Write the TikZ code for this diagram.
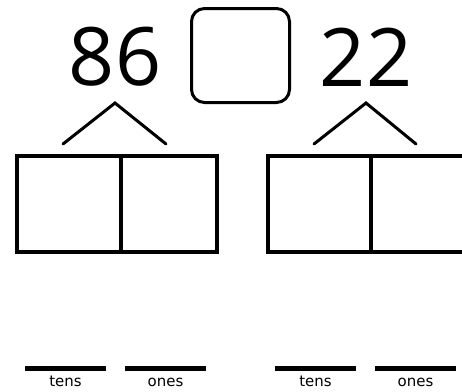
\documentclass[tikz,border=0pt]{standalone}
\usepackage{fontspec}
\setmainfont{Open Sans}
\newfontfamily\labelfont{DejaVu Sans}
\begin{document}
\begin{tikzpicture}[x=1bp,y=-1bp,
  numeral/.style={font=\fontsize{81}{81}\selectfont, inner sep=0pt, anchor=center},
  operator/.style={draw, line width=3bp, rounded corners=13bp, minimum width=98bp, minimum height=94bp, inner sep=0pt},
  cell/.style={draw, line width=4bp, inner sep=0pt, minimum height=96bp},
  split/.style={line width=3bp, line cap=round},
  blank/.style={line width=5bp},
  placelabel/.style={font=\labelfont\fontsize{15}{15}\selectfont, inner sep=0pt, anchor=base}
]
\useasboundingbox (0,0) rectangle (462,391);
\clip (0,0) rectangle (462,391);

% the two numbers and the operator box between them
\node[numeral] (n1) at (115,57) {86};
\node[numeral] (n2) at (366,57) {22};
\node[operator] (op) at (240.5,55.5) {};

% tens/ones boxes
\node[cell, minimum width=104bp, anchor=north west] (t1) at (15,154) {};
\node[cell, minimum width=96bp, anchor=north west] (o1) at (119,154) {};
\node[cell, minimum width=103bp, anchor=north west] (t2) at (266,154) {};
\node[cell, minimum width=97bp, anchor=north west] (o2) at (369,154) {};

% split lines from each number down to its boxes
\coordinate (a1) at (115,103);
\coordinate (l1) at (63,144);
\coordinate (r1) at (166,144);
\coordinate (a2) at (366,103);
\coordinate (l2) at (314,144);
\coordinate (r2) at (416,144);
\draw[split] (l1) -- (a1) -- (r1);
\draw[split] (l2) -- (a2) -- (r2);

% answer blanks with place-value labels
\coordinate (bt1a) at (25,368);  \coordinate (bt1b) at (106,368);
\coordinate (bo1a) at (125,368); \coordinate (bo1b) at (206,368);
\coordinate (bt2a) at (275,368); \coordinate (bt2b) at (356,368);
\coordinate (bo2a) at (375,368); \coordinate (bo2b) at (456,368);
\draw[blank] (bt1a) -- (bt1b);
\draw[blank] (bo1a) -- (bo1b);
\draw[blank] (bt2a) -- (bt2b);
\draw[blank] (bo2a) -- (bo2b);
\node[placelabel] (lt1) at (65.5,386) {tens};
\node[placelabel] (lo1) at (165.5,386) {ones};
\node[placelabel] (lt2) at (315.5,386) {tens};
\node[placelabel] (lo2) at (415.5,386) {ones};
\end{tikzpicture}
\end{document}
